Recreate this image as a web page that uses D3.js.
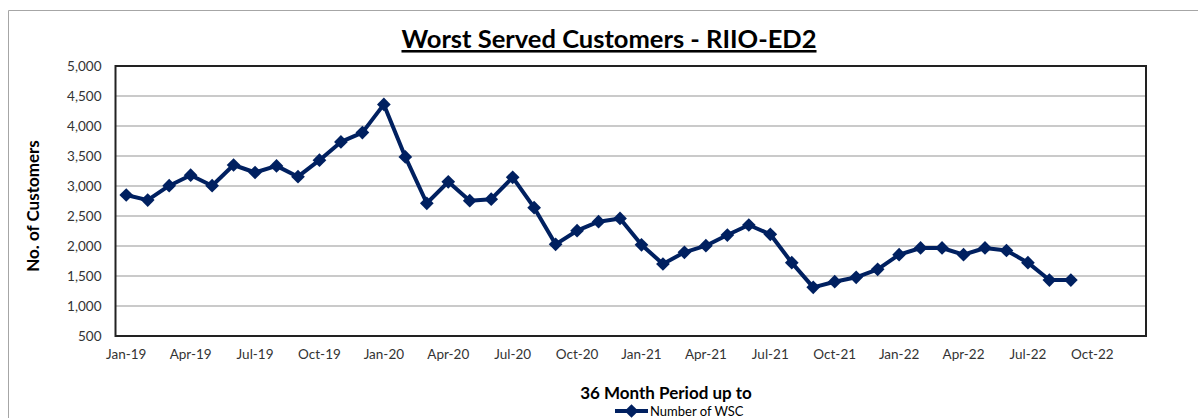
<!DOCTYPE html>
<html>
<head>
<meta charset="utf-8">
<script src="https://cdn.jsdelivr.net/npm/d3@7"></script>
<style>
    body { margin: 0; background: #fff; }
    svg { display: block; font-family: Lato, "Open Sans", sans-serif; }
</style>
</head>
<body>
<div id="graph"></div>
<script>
// months on the x axis (Jan-19 .. Dec-22)
const months = ["Jan-19", "Feb-19", "Mar-19", "Apr-19", "May-19", "Jun-19", "Jul-19", "Aug-19", "Sep-19", "Oct-19", "Nov-19", "Dec-19",
    "Jan-20", "Feb-20", "Mar-20", "Apr-20", "May-20", "Jun-20", "Jul-20", "Aug-20", "Sep-20", "Oct-20", "Nov-20", "Dec-20",
    "Jan-21", "Feb-21", "Mar-21", "Apr-21", "May-21", "Jun-21", "Jul-21", "Aug-21", "Sep-21", "Oct-21", "Nov-21", "Dec-21",
    "Jan-22", "Feb-22", "Mar-22", "Apr-22", "May-22", "Jun-22", "Jul-22", "Aug-22", "Sep-22", "Oct-22", "Nov-22", "Dec-22"];

// Number of WSC, Jan-19 .. Sep-22
const wsc = [2850, 2765, 3005, 3180, 3005, 3350, 3225, 3335, 3155, 3430, 3735, 3890,
    4360, 3485, 2712, 3070, 2755, 2780, 3145, 2638, 2028, 2255, 2405, 2460,
    2020, 1700, 1895, 2005, 2183, 2350, 2195, 1722, 1311, 1405, 1478, 1611,
    1855, 1967, 1967, 1855, 1967, 1925, 1722, 1433, 1433];

const yTicks = [500, 1000, 1500, 2000, 2500, 3000, 3500, 4000, 4500, 5000];
const xTickLabels = ["Jan-19", "Apr-19", "Jul-19", "Oct-19", "Jan-20", "Apr-20", "Jul-20", "Oct-20",
    "Jan-21", "Apr-21", "Jul-21", "Oct-21", "Jan-22", "Apr-22", "Jul-22", "Oct-22"];

const width = 1198, height = 418;
const plotLeft = 115.5, plotRight = 1146, plotTop = 66, plotBottom = 336;
const navy = "#002060";

const svg = d3.select("#graph")
    .append("svg")
    .attr("width", width)
    .attr("height", height);

// outer chart border
svg.append("path")
    .attr("d", "M8.5," + (height + 2) + "V10.5H" + (width + 2))
    .attr("fill", "none")
    .attr("stroke", "#a6a6a6")
    .attr("stroke-width", 1);

const x = d3.scaleBand()
    .domain(months)
    .range([plotLeft, plotRight]);

const y = d3.scaleLinear()
    .domain([500, 5000])
    .range([plotBottom, plotTop]);

// gridlines
svg.append("g")
    .selectAll("line")
    .data(yTicks.slice(1, -1))
    .enter()
    .append("line")
    .attr("x1", plotLeft)
    .attr("x2", plotRight)
    .attr("y1", d => y(d))
    .attr("y2", d => y(d))
    .attr("stroke", "#b8b8b8")
    .attr("stroke-width", 1.5);

// y axis labels
const yAxis = svg.append("g")
    .attr("transform", "translate(" + plotLeft + ",0)")
    .call(d3.axisLeft(y).tickValues(yTicks).tickFormat(d3.format(",")).tickSize(0).tickPadding(14));
yAxis.select(".domain").remove();
yAxis.selectAll("text")
    .attr("font-size", 13.5)
    .attr("fill", "#333")
    .style("font-family", "Lato, sans-serif");

// x axis labels
const xAxis = svg.append("g")
    .attr("transform", "translate(0," + plotBottom + ")")
    .call(d3.axisBottom(x).tickValues(xTickLabels).tickSize(0).tickPadding(13));
xAxis.select(".domain").remove();
xAxis.selectAll("text")
    .attr("font-size", 13.5)
    .attr("fill", "#333")
    .style("font-family", "Lato, sans-serif");

// plot frame
svg.append("rect")
    .attr("x", plotLeft)
    .attr("y", plotTop)
    .attr("width", plotRight - plotLeft)
    .attr("height", plotBottom - plotTop)
    .attr("fill", "none")
    .attr("stroke", "#222")
    .attr("stroke-width", 2);

// series line
const line = d3.line()
    .x((d, i) => x(months[i]) + x.bandwidth() / 2)
    .y(d => y(d));

svg.append("path")
    .datum(wsc)
    .attr("d", line)
    .attr("fill", "none")
    .attr("stroke", navy)
    .attr("stroke-width", 4)
    .attr("stroke-linejoin", "round");

const diamond = d3.symbol().type(d3.symbolDiamond2).size(120);

svg.append("g")
    .selectAll("path")
    .data(wsc)
    .enter()
    .append("path")
    .attr("d", diamond)
    .attr("transform", (d, i) => "translate(" + (x(months[i]) + x.bandwidth() / 2) + "," + y(d) + ")")
    .attr("fill", navy);

// title
svg.append("text")
    .attr("x", 609)
    .attr("y", 48)
    .attr("text-anchor", "middle")
    .attr("font-size", 25.5)
    .attr("font-weight", "bold")
    .attr("text-decoration", "underline")
    .attr("fill", "#000")
    .text("Worst Served Customers - RIIO-ED2");

// axis titles
svg.append("text")
    .attr("transform", "translate(39,206) rotate(-90)")
    .attr("text-anchor", "middle")
    .attr("font-size", 17)
    .attr("font-weight", "bold")
    .attr("fill", "#000")
    .text("No. of Customers");

svg.append("text")
    .attr("x", 666)
    .attr("y", 399)
    .attr("text-anchor", "middle")
    .attr("font-size", 17)
    .attr("font-weight", "bold")
    .attr("fill", "#000")
    .text("36 Month Period up to");

// legend
const legend = svg.append("g").attr("transform", "translate(615,411)");
legend.append("line")
    .attr("x1", 0)
    .attr("x2", 33)
    .attr("stroke", navy)
    .attr("stroke-width", 4);
legend.append("path")
    .attr("d", diamond)
    .attr("transform", "translate(16.5,0)")
    .attr("fill", navy);
legend.append("text")
    .attr("x", 35)
    .attr("y", 5)
    .attr("font-size", 13)
    .attr("fill", "#000")
    .text("Number of WSC");
</script>
</body>
</html>
